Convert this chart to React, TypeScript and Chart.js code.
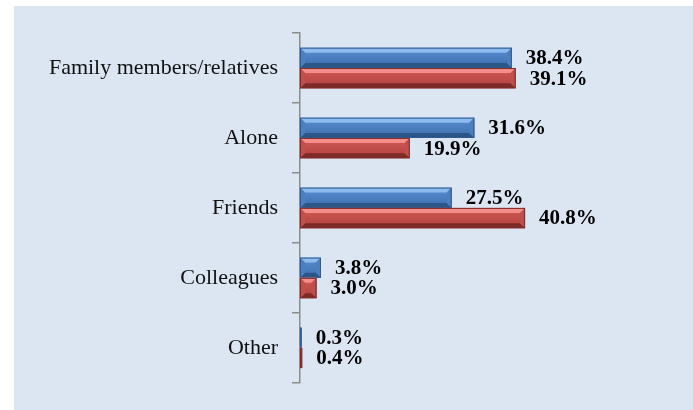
import React, { useEffect, useRef } from "react";
import { Chart, registerables } from "chart.js";

Chart.register(...registerables);

const categories = ["Family members/relatives", "Alone", "Friends", "Colleagues", "Other"];
const seriesBlue = [38.4, 31.6, 27.5, 3.8, 0.3];
const seriesRed = [39.1, 19.9, 40.8, 3.0, 0.4];
const seriesNames = ["Series 1", "Series 2"];

const palettes = [
  { top: "#8dbbf0", faceTop: "#5a8fd2", faceBot: "#3d6eae", bottom: "#2c5688", side: "#4a7fc0", border: "#2f5b8f" },
  { top: "#f48e8b", faceTop: "#d25a56", faceBot: "#b0403d", bottom: "#7e2a28", side: "#c24e4a", border: "#7e2c2a" },
];

const bevelPlugin = {
  id: "bevelBars",
  beforeDraw(chart: any) {
    const ctx = chart.ctx;
    ctx.save();
    ctx.fillStyle = "#dce6f2";
    ctx.fillRect(14, 6, chart.width - 14, chart.height - 6);
    ctx.restore();
  },
  afterDatasetsDraw(chart: any) {
    const ctx = chart.ctx;
    chart.data.datasets.forEach((ds: any, di: number) => {
      const meta = chart.getDatasetMeta(di);
      const p = palettes[di];
      meta.data.forEach((el: any, i: number) => {
        const { x, y, base, height } = el.getProps(["x", "y", "base", "height"], true);
        const L = Math.min(base, x);
        const R = Math.max(base, x);
        const T = y - height / 2;
        const B = y + height / 2;
        const w = R - L;
        if (w <= 0) return;
        const b = Math.min(5, w / 2, height / 3);
        ctx.save();
        const g = ctx.createLinearGradient(0, T, 0, B);
        g.addColorStop(0, p.faceTop);
        g.addColorStop(1, p.faceBot);
        ctx.fillStyle = g;
        ctx.fillRect(L, T, w, height);
        ctx.fillStyle = p.top;
        ctx.beginPath();
        ctx.moveTo(L, T);
        ctx.lineTo(R, T);
        ctx.lineTo(R - b, T + b);
        ctx.lineTo(L + b, T + b);
        ctx.closePath();
        ctx.fill();
        ctx.fillStyle = p.bottom;
        ctx.beginPath();
        ctx.moveTo(L, B);
        ctx.lineTo(R, B);
        ctx.lineTo(R - b, B - b);
        ctx.lineTo(L + b, B - b);
        ctx.closePath();
        ctx.fill();
        ctx.fillStyle = p.side;
        ctx.beginPath();
        ctx.moveTo(R, T);
        ctx.lineTo(R, B);
        ctx.lineTo(R - b, B - b);
        ctx.lineTo(R - b, T + b);
        ctx.closePath();
        ctx.fill();
        ctx.beginPath();
        ctx.moveTo(L, T);
        ctx.lineTo(L + b, T + b);
        ctx.lineTo(L + b, B - b);
        ctx.lineTo(L, B);
        ctx.closePath();
        ctx.fill();
        ctx.strokeStyle = p.border;
        ctx.lineWidth = 1;
        ctx.strokeRect(L + 0.5, T + 0.5, Math.max(w - 1, 0.5), height - 1);
        ctx.restore();

        ctx.save();
        ctx.font = "bold 21px 'Liberation Serif', 'DejaVu Serif', serif";
        ctx.fillStyle = "#000000";
        ctx.textAlign = "left";
        ctx.textBaseline = "middle";
        ctx.fillText(ds.data[i].toFixed(1) + "%", R + 14, y + 1);
        ctx.restore();
      });
    });
  },
};

export default function App() {
  const canvasRef = useRef<HTMLCanvasElement | null>(null);

  useEffect(() => {
    const canvas = canvasRef.current;
    if (!canvas) return;
    const chart = new Chart(canvas, {
      type: "bar",
      data: {
        labels: categories,
        datasets: [
          { label: seriesNames[0], data: seriesBlue, backgroundColor: "rgba(0,0,0,0)", borderWidth: 0 },
          { label: seriesNames[1], data: seriesRed, backgroundColor: "rgba(0,0,0,0)", borderWidth: 0 },
        ],
      },
      options: {
        indexAxis: "y",
        responsive: false,
        animation: false,
        devicePixelRatio: 1,
        layout: { padding: { left: 0, right: 62, top: 33, bottom: 23 } },
        datasets: { bar: { barPercentage: 1.0, categoryPercentage: 0.58 } },
        plugins: { legend: { display: false }, tooltip: { enabled: false } },
        scales: {
          x: { display: false, min: 0, max: 60 },
          y: {
            afterFit(scale: any) {
              scale.width = 300;
            },
            grid: {
              display: true,
              drawOnChartArea: false,
              drawTicks: true,
              tickLength: 8,
              color: "#8c8c8c",
              lineWidth: 1.5,
              offset: true,
            },
            border: { display: true, color: "#8c8c8c", width: 1.5 },
            ticks: {
              color: "#111111",
              padding: 14,
              font: { family: "'Liberation Serif', 'DejaVu Serif', serif", size: 22 },
            },
          },
        },
      },
      plugins: [bevelPlugin],
    });
    return () => chart.destroy();
  }, []);

  return (
    <div style={{ position: "fixed", left: 0, top: 0, width: 693, height: 410, background: "#ffffff" }}>
      <canvas ref={canvasRef} width={693} height={410} style={{ display: "block" }} />
    </div>
  );
}
